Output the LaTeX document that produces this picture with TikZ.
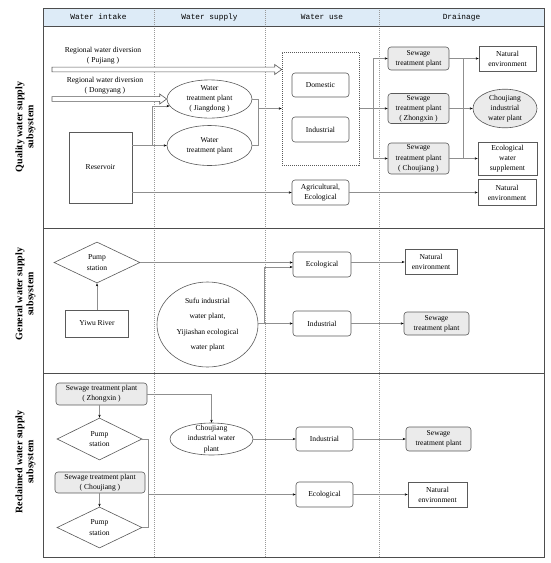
\documentclass[tikz,border=0pt]{standalone}
\usepackage{fontspec}
\setmainfont{Liberation Serif}
\newfontfamily\hdrfont{Liberation Mono}
\usetikzlibrary{shapes.geometric,arrows.meta,calc}
\definecolor{hdrblue}{HTML}{DDEBF7}
\definecolor{framecol}{HTML}{4D4D4D}
\definecolor{edgecol}{HTML}{5A5A5A}
\definecolor{conncol}{HTML}{8F8F8F}
\definecolor{sewfill}{HTML}{EBEBEB}
\tikzset{
 txt/.style={font=\fontsize{7.6}{10.2}\selectfont, align=center, inner sep=0pt},
 rbox/.style={txt, draw=edgecol, line width=0.6pt, rounded corners=3pt, fill=white},
 sbox/.style={rbox, fill=sewfill},
 pbox/.style={txt, draw=edgecol, line width=0.6pt, fill=white},
 ell/.style={txt, ellipse, draw=edgecol, line width=0.6pt, fill=white},
 dia/.style={txt, diamond, aspect=2, draw=edgecol, line width=0.6pt, fill=white},
 conn/.style={draw=conncol, line width=0.5pt, -{Stealth[length=3pt,width=2.4pt,color=black]}},
 wire/.style={draw=conncol, line width=0.5pt},
 blockarr/.style={draw=edgecol, line width=0.6pt, fill=white},
 sect/.style={draw=framecol, line width=0.9pt},
 coldiv/.style={draw=black!40, line width=0.4pt, dash pattern=on 1pt off 1pt},
 hdr/.style={font=\hdrfont\fontsize{7.8}{9}\selectfont},
 side/.style={font=\bfseries\fontsize{10}{11}\selectfont, align=center, rotate=90},
}
\begin{document}
\begin{tikzpicture}[x=1pt,y=-1pt]
\useasboundingbox (0,0) rectangle (550,563);
% header
\fill[hdrblue] (43,8) rectangle (544,26);
\foreach \xx in {154,265,379} \draw[coldiv] (\xx,8) -- (\xx,557);
\draw[sect] (43,26) -- (544,26);
\draw[sect] (43,228) -- (544,228);
\draw[sect] (43,373) -- (544,373);
\draw[sect] (43,8) rectangle (544,557);
\node[hdr] (h1) at (98.5,17) {Water intake};
\node[hdr] (h2) at (209.5,17) {Water supply};
\node[hdr] (h3) at (322,17) {Water use};
\node[hdr] (h4) at (461.5,17) {Drainage};
% side labels
\node[side] (l1) at (25.5,127) {Quality water supply\\subsystem};
\node[side] (l2) at (25.5,294) {General water supply\\subsystem};
\node[side] (l3) at (25.5,462) {Reclaimed water supply\\subsystem};

% ---------- quality section
\node[txt] (pjt) at (103,55.5) {Regional water diversion\\( Pujiang )};
\node[txt] (dyt) at (105,85.5) {Regional water diversion\\( Dongyang )};
\node[pbox, minimum width=63pt, minimum height=71pt] (res) at (100.5,167.5) {Reservoir};
\node[ell, minimum width=85pt, minimum height=38pt] (wtp1) at (209.5,99) {Water\\treatment plant\\( Jiangdong )};
\node[ell, minimum width=85pt, minimum height=40pt] (wtp2) at (209.5,145.5) {Water\\treatment plant};
\node[draw=edgecol, line width=0.6pt, dash pattern=on 1pt off 1pt, minimum width=77pt, minimum height=113pt, inner sep=0pt] (dbox) at (320.5,108.5) {};
\node[rbox, minimum width=57pt, minimum height=24pt] (dom) at (320.5,85) {Domestic};
\node[rbox, minimum width=57pt, minimum height=25pt] (ind1) at (320.5,129.5) {Industrial};
\node[rbox, minimum width=57pt, minimum height=25pt] (agr) at (320.5,192.5) {Agricultural,\\Ecological};
\node[sbox, minimum width=61pt, minimum height=23pt] (s1) at (418.5,58.5) {Sewage\\treatment plant};
\node[sbox, minimum width=61pt, minimum height=30pt] (s2) at (418.5,108.5) {Sewage\\treatment plant\\( Zhongxin )};
\node[sbox, minimum width=61pt, minimum height=31pt] (s3) at (418.5,158.5) {Sewage\\treatment plant\\( Choujiang )};
\node[pbox, minimum width=57pt, minimum height=25pt] (ne1) at (507.5,58.5) {Natural\\environment};
\node[ell, fill=sewfill, minimum width=64pt, minimum height=37pt] (cjw) at (505,108.5) {Choujiang\\industrial\\water plant};
\node[pbox, minimum width=59pt, minimum height=33pt] (ews) at (507.5,158.5) {Ecological\\water\\supplement};
\node[pbox, minimum width=58pt, minimum height=26pt] (ne2) at (507,192.5) {Natural\\environment};

\coordinate (pjs) at (52,69.5);
\coordinate (dys) at (52,99);
\draw[blockarr] let \p1=(pjs), \p2=(dbox.west |- pjs) in
  (\x1,\y1+2.4pt) -- (\x2-7pt,\y1+2.4pt) -- (\x2-7pt,\y1+5pt) -- (\x2,\y1) -- (\x2-7pt,\y1-5pt) -- (\x2-7pt,\y1-2.4pt) -- (\x1,\y1-2.4pt) -- cycle;
\draw[blockarr] let \p1=(dys), \p2=(wtp1.west) in
  (\x1,\y1+2.4pt) -- (\x2-7pt,\y1+2.4pt) -- (\x2-7pt,\y1+5pt) -- (\x2,\y1) -- (\x2-7pt,\y1-5pt) -- (\x2-7pt,\y1-2.4pt) -- (\x1,\y1-2.4pt) -- cycle;

\draw[conn] (res.east |- wtp2.west) -- (wtp2.west);
\coordinate (br1) at (152,145.5);
\draw[conn] (br1) |- (wtp1.190);
\draw[wire] (wtp1.east) -- ++(6,0) |- (wtp2.east);
\coordinate (wj) at (258,108.5);
\draw[conn] (wj) -- (dbox.west);
\coordinate (bus) at (373,108.5);
\draw[wire] (dbox.east) -- (bus);
\draw[conn] (bus) |- (s1.west);
\draw[conn] (bus) -- (s2.west);
\draw[conn] (bus) |- (s3.west);
\coordinate (db1) at (463,58.5);
\coordinate (db3) at (463,158.5);
\draw[wire] (db1) -- (db3);
\draw[conn] (s1.east) -- (ne1.west);
\draw[conn] (s2.east) -- (cjw.west);
\draw[conn] (s3.east) -- (ews.west);
\draw[conn] (res.east |- agr.west) -- (agr.west);
\draw[conn] (agr.east) -- (agr.east -| ne2.west);

% ---------- general section
\node[dia, minimum width=86pt, minimum height=41pt] (pump1) at (97,262.5) {Pump\\station};
\node[pbox, minimum width=63pt, minimum height=27pt] (yiwu) at (97,323.5) {Yiwu River};
\node[ell, font=\fontsize{7.6}{15.5}\selectfont, minimum width=101pt, minimum height=85pt] (sufu) at (207.5,324.5) {Sufu industrial\\water plant,\\Yijiashan ecological\\water plant};
\node[rbox, minimum width=58pt, minimum height=25pt] (eco2) at (322,264.5) {Ecological};
\node[rbox, minimum width=58pt, minimum height=25pt] (ind2) at (322,323.5) {Industrial};
\node[pbox, minimum width=52pt, minimum height=25pt] (ne3) at (431,262) {Natural\\environment};
\node[sbox, minimum width=65pt, minimum height=23pt] (s4) at (436.5,323.5) {Sewage\\treatment plant};

\draw[conn] (yiwu.north) -- (pump1.south);
\draw[conn] (pump1.east) -- (pump1.east -| eco2.west);
\draw[conn] (sufu.east |- ind2.west) -- (ind2.west);
\coordinate (br2) at (264,323.5);
\draw[conn] (br2) |- ($(eco2.west)+(0,2.5)$);
\draw[conn] (eco2.east |- ne3.west) -- (ne3.west);
\draw[conn] (ind2.east) -- (s4.west);

% ---------- reclaimed section
\node[sbox, minimum width=91pt, minimum height=22pt] (sz) at (101.5,394) {Sewage treatment plant\\( Zhongxin )};
\node[dia, minimum width=85pt, minimum height=42pt] (pump2) at (99.5,439) {Pump\\station};
\node[sbox, minimum width=90pt, minimum height=21pt] (sc) at (100,482.5) {Sewage treatment plant\\( Choujiang )};
\node[dia, minimum width=85pt, minimum height=41pt] (pump3) at (99.5,527.5) {Pump\\station};
\node[ell, minimum width=83pt, minimum height=32pt] (cjw2) at (211.5,439) {};
\node[txt] (cjw2t) at (cjw2) {Choujiang\\industrial water\\plant};
\node[rbox, minimum width=57pt, minimum height=24pt] (ind3) at (324.5,439) {Industrial};
\node[rbox, minimum width=57pt, minimum height=25pt] (eco3) at (324.5,494.5) {Ecological};
\node[sbox, minimum width=65pt, minimum height=24pt] (s5) at (438.5,439) {Sewage\\treatment plant};
\node[pbox, minimum width=59pt, minimum height=25pt] (ne4) at (437.5,494.5) {Natural\\environment};

\draw[conn] (pump2.north |- sz.south) -- (pump2.north);
\draw[conn] (pump3.north |- sc.south) -- (pump3.north);
\draw[conn] (sz.east) -| (cjw2.north);
\draw[conn] (cjw2.east) -- (ind3.west);
\draw[wire] (pump2.east) -- ++(6,0) |- (pump3.east);
\coordinate (br3) at (148,494.5);
\draw[conn] (br3) -- (eco3.west);
\draw[conn] (ind3.east) -- (s5.west);
\draw[conn] (eco3.east) -- (ne4.west);
\end{tikzpicture}
\end{document}
